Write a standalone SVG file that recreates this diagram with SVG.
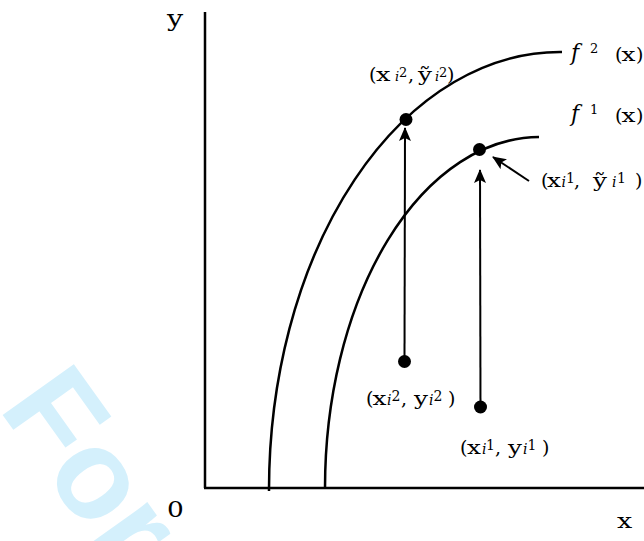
<svg xmlns="http://www.w3.org/2000/svg" width="644" height="541" viewBox="0 0 644 541">
<defs>
<style>
.lbl{font-family:"DejaVu Serif","Liberation Serif",serif;font-size:19px;fill:#000}
.sm{font-size:14px}
.sa{font-size:13px}
.it{font-style:italic}
.axis{stroke:#000;stroke-width:2.5;fill:none}
.curve{stroke:#000;stroke-width:2.5;fill:none}
.conn{stroke:#000;stroke-width:2;fill:none}
.dot{fill:#000}
</style>
<marker id="ah" viewBox="0 0 14 12" refX="13" refY="6" markerWidth="14" markerHeight="12" markerUnits="userSpaceOnUse" orient="auto">
<path d="M0,0 L14,6 L0,12 L3,6 Z" fill="#000"/>
</marker>
</defs>
<rect width="644" height="541" fill="#fff"/>
<text transform="translate(-2.3,408) rotate(54.5)" font-family="Liberation Sans, Arial, sans-serif" font-weight="bold" font-size="127" fill="#d4f0fc">For Peer Review</text>
<g id="axes">
<line class="axis" x1="205" y1="12" x2="205" y2="488"/>
<line class="axis" x1="204" y1="488" x2="644" y2="488"/>
<text class="lbl" transform="translate(167,26) scale(1.3,1)" style="font-size:22px">y</text>
<text class="lbl" transform="translate(617,528) scale(1.35,1)" style="font-size:20px">x</text>
<text class="lbl" transform="translate(167,517) scale(1.2,1)" style="font-size:22px">0</text>
</g>
<g id="curve-f2">
<path class="curve" d="M269,491 A291,438 0 0 1 562,52"/>
<text class="lbl it" x="571" y="60" style="font-size:22px">f</text>
<text class="lbl sa" x="590" y="53">2</text>
<text class="lbl" x="615" y="61">(</text>
<text class="lbl" transform="translate(621.5,61) scale(1.3,1)">x</text>
<text class="lbl" x="636" y="61">)</text>
</g>
<g id="curve-f1">
<path class="curve" d="M325,488 A215,351 0 0 1 539,137"/>
<text class="lbl it" x="571" y="121" style="font-size:22px">f</text>
<text class="lbl sa" x="590" y="114">1</text>
<text class="lbl" x="615" y="122">(</text>
<text class="lbl" transform="translate(621.5,122) scale(1.3,1)">x</text>
<text class="lbl" x="636" y="122">)</text>
</g>
<g id="connectors">
<line class="conn" x1="404.5" y1="361" x2="405" y2="128" marker-end="url(#ah)"/>
<line class="conn" x1="480.5" y1="407" x2="480" y2="170" marker-end="url(#ah)"/>
<line class="conn" x1="529" y1="181" x2="493" y2="157" marker-end="url(#ah)"/>
</g>
<g id="p-f2">
<circle class="dot" cx="406" cy="119.5" r="6.5"/>
<text class="lbl" x="369" y="81">(</text>
<text class="lbl" transform="translate(376,81) scale(1.35,1)">x</text>
<text class="lbl sa it" x="395" y="81">i</text>
<text class="lbl sa" x="399" y="77">2</text>
<text class="lbl" x="408" y="81">,</text>
<text class="lbl" transform="translate(418,81) scale(1.3,1)">ỹ</text>
<text class="lbl sa it" x="435" y="81">i</text>
<text class="lbl sa" x="439" y="77">2</text>
<text class="lbl" x="447" y="81">)</text>
</g>
<g id="p-f1">
<circle class="dot" cx="479.5" cy="149.5" r="6.5"/>
<text class="lbl" x="541" y="187">(</text>
<text class="lbl" transform="translate(547,187) scale(1.3,1)">x</text>
<text class="lbl sm it" x="561.5" y="187">i</text>
<text class="lbl sm" x="566" y="183">1</text>
<text class="lbl" x="574" y="187">,</text>
<text class="lbl" transform="translate(593,187) scale(1.3,1)">ỹ</text>
<text class="lbl sm it" x="612" y="187">i</text>
<text class="lbl sm" x="617" y="183">1</text>
<text class="lbl" x="635" y="187">)</text>
</g>
<g id="p-y2">
<circle class="dot" cx="404.5" cy="361.5" r="6.5"/>
<text class="lbl" x="366" y="405">(</text>
<text class="lbl" transform="translate(372.5,405) scale(1.3,1)">x</text>
<text class="lbl sm it" x="387" y="405">i</text>
<text class="lbl sm" x="391.5" y="401">2</text>
<text class="lbl" x="401" y="405">,</text>
<text class="lbl" transform="translate(414,405) scale(1.3,1)">y</text>
<text class="lbl sm it" x="429" y="405">i</text>
<text class="lbl sm" x="433.5" y="401">2</text>
<text class="lbl" x="448" y="405">)</text>
</g>
<g id="p-y1">
<circle class="dot" cx="480.5" cy="407" r="6.5"/>
<text class="lbl" x="460" y="454">(</text>
<text class="lbl" transform="translate(467,454) scale(1.3,1)">x</text>
<text class="lbl sm it" x="482" y="454">i</text>
<text class="lbl sm" x="486" y="450">1</text>
<text class="lbl" x="495" y="454">,</text>
<text class="lbl" transform="translate(508,454) scale(1.3,1)">y</text>
<text class="lbl sm it" x="523" y="454">i</text>
<text class="lbl sm" x="527.5" y="450">1</text>
<text class="lbl" x="542" y="454">)</text>
</g>
</svg>
